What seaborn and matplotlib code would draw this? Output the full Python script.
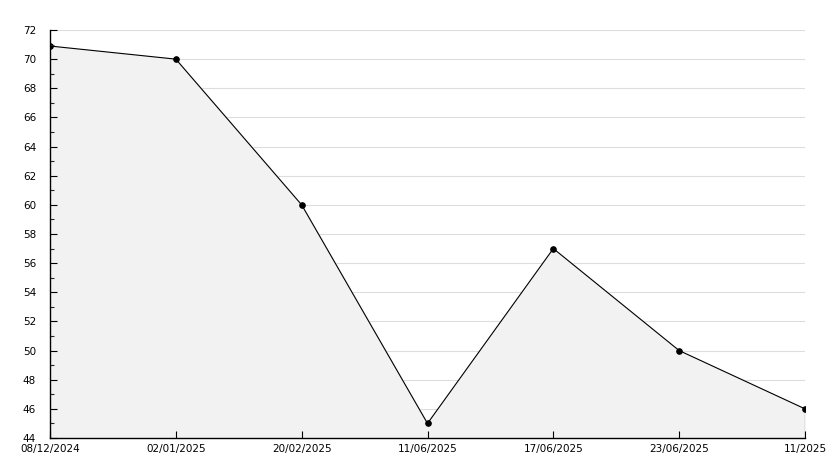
import pandas as pd
import numpy as np
import matplotlib
matplotlib.use("Agg")
import matplotlib.pyplot as plt
import seaborn as sns
from matplotlib.ticker import MultipleLocator

# ---------------------------------------------
# Data
# ---------------------------------------------
dates = ["08/12/2024", "02/01/2025", "20/02/2025", "11/06/2025",
         "17/06/2025", "23/06/2025", "11/2025"]
values = [70.9, 70, 60, 45, 57, 50, 46]

df = pd.DataFrame({"pos": np.arange(len(dates)), "value": values})

# ---------------------------------------------
# Plot
# ---------------------------------------------
sns.set_style("white")
plt.rcParams["font.family"] = ["DejaVu Sans"]

fig = plt.figure(figsize=(8.34, 4.68), dpi=100)
rect = [50 / 834, 30 / 468, 755 / 834, 408 / 468]
ax = fig.add_axes(rect)

# grid below, fill covers it
ax.fill_between(df["pos"], df["value"], 44, color="#f2f2f2", zorder=1)
sns.lineplot(data=df, x="pos", y="value", ax=ax, color="black", linewidth=0.8,
             marker="o", markersize=4, markeredgecolor="black", zorder=3)
ax.plot([df["pos"].iloc[-1]] * 2, [44, values[-1]], color="black", linewidth=0.8, zorder=3)

ax.set_xlim(0, len(dates) - 1)
ax.set_ylim(44, 72)
ax.set_xticks(df["pos"])
ax.set_xticklabels(dates)
ax.yaxis.set_major_locator(MultipleLocator(2))
ax.yaxis.set_minor_locator(MultipleLocator(1))
ax.grid(axis="y", which="major", color="#dddddd", linewidth=0.8)
ax.set_axisbelow(True)
ax.tick_params(axis="both", which="both", length=0, colors="black", labelsize=7.5)
ax.tick_params(axis="y", which="major", pad=10)
ax.tick_params(axis="x", which="major", pad=4)
for s in ax.spines.values():
    s.set_visible(False)
ax.set_xlabel("")
ax.set_ylabel("")

# overlay for ticks and spines on top of the fill
tx = fig.add_axes(rect, sharex=ax, sharey=ax)
tx.patch.set_visible(False)
tx.grid(False)
for s in ["top", "right"]:
    tx.spines[s].set_visible(False)
for s in ["left", "bottom"]:
    tx.spines[s].set_color("black")
    tx.spines[s].set_linewidth(1)
tx.tick_params(axis="both", which="major", direction="in", length=5, width=0.8,
               colors="black", left=True, bottom=True, labelleft=False, labelbottom=False)
tx.tick_params(axis="y", which="minor", direction="in", length=3, width=0.8, left=True)

fig.savefig("out.png", dpi=100)
